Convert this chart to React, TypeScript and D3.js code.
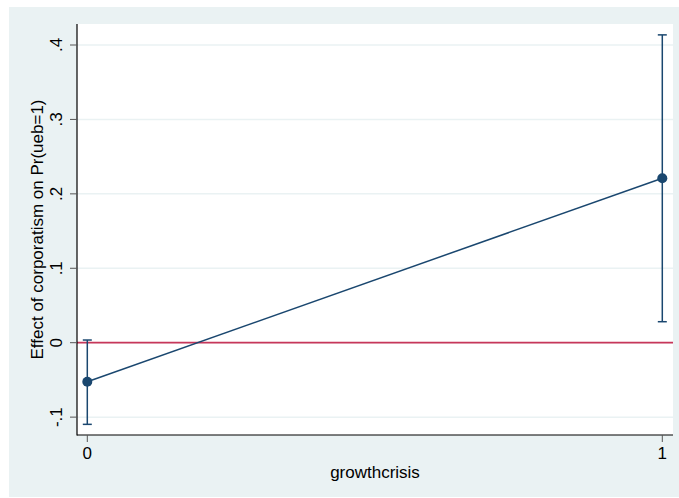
import React from "react";
import * as d3 from "d3";

// Marginal effect estimates with 95% confidence bounds
const categories = [0, 1];
const estimates = [-0.0524, 0.221];
const lowerBounds = [-0.1097, 0.0282];
const upperBounds = [0.0036, 0.4136];
const yTicks = [-0.1, 0, 0.1, 0.2, 0.3, 0.4];
const yTickLabels = ["-.1", "0", ".1", ".2", ".3", ".4"];
const xTickLabels = ["0", "1"];

const W = 679;
const H = 498;
const plot = { left: 77, right: 673, top: 24, bottom: 435 };
const font = "'Liberation Sans', Arial, Helvetica, sans-serif";
const navy = "#1a476f";
const red = "#c7375a";
const grid = "#eaf2f3";

export default function App() {
  const x = d3.scaleLinear().domain([0, 1]).range([87.3, 662.3]);
  const y = d3.scaleLinear().domain([0, 0.4]).range([342.7, 45]);

  const line = d3
    .line<number>()
    .x((_, i) => x(categories[i]))
    .y((d) => y(d));

  return (
    <svg
      width={W}
      height={H}
      style={{ position: "absolute", left: 0, top: 0, display: "block" }}
    >
      <rect x={0} y={0} width={W} height={H} fill="#ffffff" />
      <rect x={9} y={7} width={W - 9} height={490} fill="#eaf2f3" />
      <rect
        x={plot.left}
        y={plot.top}
        width={plot.right - plot.left}
        height={plot.bottom - plot.top}
        fill="#ffffff"
      />
      {yTicks.map((t) => (
        <line
          key={"g" + t}
          x1={plot.left}
          x2={plot.right}
          y1={y(t)}
          y2={y(t)}
          stroke={grid}
          strokeWidth={1.5}
        />
      ))}
      <line
        x1={plot.left}
        x2={plot.right}
        y1={y(0)}
        y2={y(0)}
        stroke={red}
        strokeWidth={1.8}
      />
      <path d={line(estimates) || ""} fill="none" stroke={navy} strokeWidth={1.5} />
      {categories.map((c, i) => (
        <g key={"ci" + c}>
          <line
            x1={x(c)}
            x2={x(c)}
            y1={y(lowerBounds[i])}
            y2={y(upperBounds[i])}
            stroke={navy}
            strokeWidth={1.5}
          />
          <line
            x1={x(c) - 4.5}
            x2={x(c) + 4.5}
            y1={y(lowerBounds[i])}
            y2={y(lowerBounds[i])}
            stroke={navy}
            strokeWidth={1.5}
          />
          <line
            x1={x(c) - 4.5}
            x2={x(c) + 4.5}
            y1={y(upperBounds[i])}
            y2={y(upperBounds[i])}
            stroke={navy}
            strokeWidth={1.5}
          />
          <circle cx={x(c)} cy={y(estimates[i])} r={5} fill={navy} />
        </g>
      ))}
      {/* axes */}
      <line x1={plot.left} x2={plot.left} y1={plot.top} y2={plot.bottom + 0.5} stroke="#000" strokeWidth={1.2} />
      <line x1={plot.left} x2={plot.right} y1={plot.bottom} y2={plot.bottom} stroke="#000" strokeWidth={1.2} />
      {yTicks.map((t, i) => (
        <g key={"yt" + t}>
          <line x1={plot.left - 7} x2={plot.left} y1={y(t)} y2={y(t)} stroke="#555" strokeWidth={1} />
          <text
            transform={`translate(62,${y(t)}) rotate(-90)`}
            textAnchor="middle"
            fontFamily={font}
            fontSize={17}
            fill="#000"
          >
            {yTickLabels[i]}
          </text>
        </g>
      ))}
      {categories.map((c, i) => (
        <g key={"xt" + c}>
          <line x1={x(c)} x2={x(c)} y1={plot.bottom} y2={plot.bottom + 7} stroke="#555" strokeWidth={1} />
          <text x={x(c)} y={459} textAnchor="middle" fontFamily={font} fontSize={17} fill="#000">
            {xTickLabels[i]}
          </text>
        </g>
      ))}
      <text
        x={(plot.left + plot.right) / 2}
        y={478}
        textAnchor="middle"
        fontFamily={font}
        fontSize={17}
        fill="#000"
      >
        growthcrisis
      </text>
      <text
        transform={`translate(43,${(plot.top + plot.bottom) / 2}) rotate(-90)`}
        textAnchor="middle"
        fontFamily={font}
        fontSize={17}
        fill="#000"
      >
        Effect of corporatism on Pr(ueb=1)
      </text>
    </svg>
  );
}
